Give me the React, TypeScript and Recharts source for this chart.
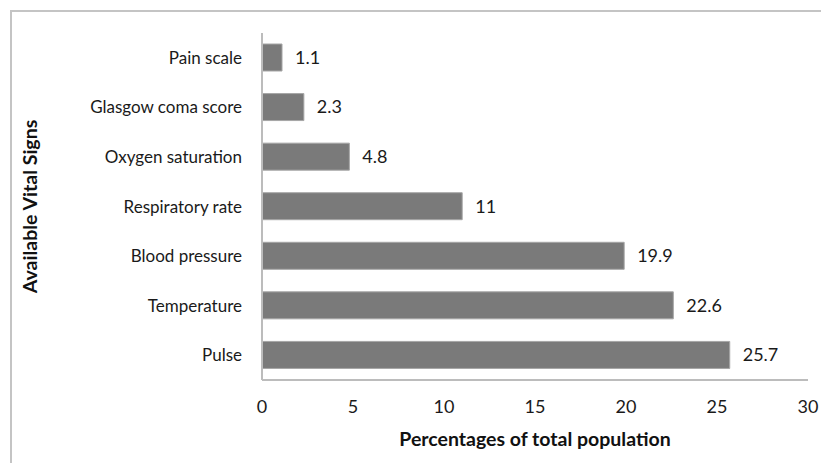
import React from "react";
import { BarChart, Bar, XAxis, YAxis, LabelList, Label } from "recharts";

const signs = [
  "Pain scale",
  "Glasgow coma score",
  "Oxygen saturation",
  "Respiratory rate",
  "Blood pressure",
  "Temperature",
  "Pulse",
];
const percentages = [1.1, 2.3, 4.8, 11, 19.9, 22.6, 25.7];
const xTicks = [0, 5, 10, 15, 20, 25, 30];

const data = signs.map((name, i) => ({ name, value: percentages[i] }));

const font = "Lato, 'Open Sans', sans-serif";
const axisColor = "#bcbcbc";

export default function App() {
  return (
    <div
      style={{
        position: "relative",
        width: 829,
        height: 471,
        margin: -8,
        overflow: "hidden",
        background: "#fff",
        fontFamily: font,
      }}
    >
      <div
        style={{
          position: "absolute",
          left: 10,
          top: 10,
          width: 840,
          height: 480,
          border: "2px solid #c4c4c4",
        }}
      />
      <BarChart
        width={829}
        height={471}
        data={data}
        layout="vertical"
        margin={{ top: 33, right: 21, bottom: 21, left: 20 }}
        style={{ position: "absolute", left: 0, top: 0 }}
      >
        <XAxis
          type="number"
          domain={[0, 30]}
          ticks={xTicks}
          interval={0}
          height={70}
          tickLine={false}
          tickSize={0}
          tickMargin={20}
          axisLine={{ stroke: axisColor, strokeWidth: 2 }}
          tick={{ fill: "#1a1a1a", fontSize: 18, fontFamily: font }}
        >
          <Label
            value="Percentages of total population"
            position="insideBottom"
            offset={4}
            style={{ fill: "#111", fontSize: 19.5, fontWeight: 700, fontFamily: font }}
          />
        </XAxis>
        <YAxis
          type="category"
          dataKey="name"
          width={242}
          tickLine={false}
          tickSize={0}
          tickMargin={20}
          axisLine={{ stroke: axisColor, strokeWidth: 2 }}
          tick={{ fill: "#1a1a1a", fontSize: 17, fontFamily: font }}
        >
          <Label
            value="Available Vital Signs"
            angle={-90}
            position="insideLeft"
            offset={10}
            style={{
              fill: "#111",
              fontSize: 19.5,
              fontWeight: 700,
              fontFamily: font,
              textAnchor: "middle",
            }}
          />
        </YAxis>
        <Bar
          dataKey="value"
          fill="#7a7a7a"
          stroke="#a6a6a6"
          strokeWidth={1}
          barSize={27}
          isAnimationActive={false}
        >
          <LabelList
            dataKey="value"
            position="right"
            offset={13}
            style={{ fill: "#1a1a1a", fontSize: 18, fontFamily: font }}
          />
        </Bar>
      </BarChart>
    </div>
  );
}
